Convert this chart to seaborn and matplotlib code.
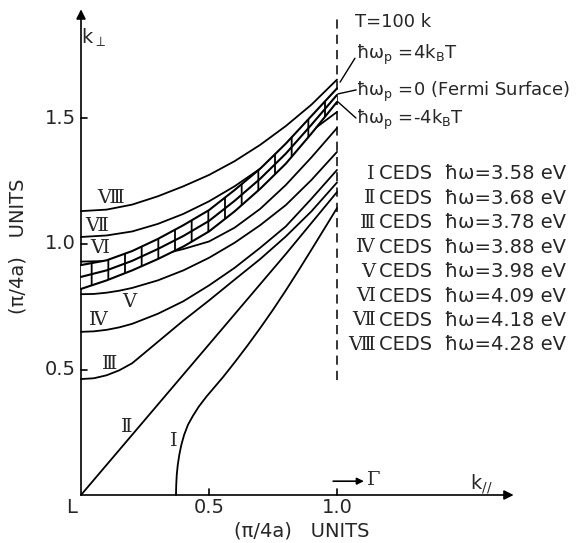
import numpy as np
import pandas as pd
import matplotlib
matplotlib.use("Agg")
import matplotlib.pyplot as plt
import seaborn as sns

# ---------------- data ----------------
xg = [0.0, 0.1, 0.2, 0.3, 0.4, 0.5, 0.6, 0.7, 0.8, 0.9, 1.0]
xf = [0.0, 0.05, 0.1, 0.15, 0.2, 0.3, 0.4, 0.5, 0.6, 0.7, 0.8, 0.9, 1.0]
curve_VIII = [1.131, 1.137, 1.157, 1.19, 1.23, 1.275, 1.33, 1.395, 1.47, 1.555, 1.655]
curve_VII = [1.028, 1.034, 1.05, 1.08, 1.12, 1.17, 1.23, 1.30, 1.37, 1.45, 1.526]
curve_VI = [0.93, 0.932, 0.94, 0.955, 0.98, 1.01, 1.065, 1.14, 1.235, 1.345, 1.462]
curve_V = [0.80, 0.801, 0.806, 0.814, 0.825, 0.855, 0.895, 0.945, 1.005, 1.075, 1.155, 1.255, 1.367]
curve_IV = [0.65, 0.652, 0.658, 0.668, 0.682, 0.722, 0.772, 0.835, 0.905, 0.985, 1.07, 1.18, 1.295]
curve_III = [0.462, 0.465, 0.477, 0.497, 0.525, 0.61, 0.695, 0.775, 0.858, 0.94, 1.03, 1.13, 1.245]
x_II = [0.0, 0.2, 0.4, 0.6, 0.8, 1.0]
curve_II = [0.0, 0.24, 0.48, 0.72, 0.96, 1.207]
x_I = [0.371, 0.372, 0.374, 0.378, 0.384, 0.392, 0.403, 0.418, 0.437, 0.46, 0.49,
       0.52, 0.555, 0.60, 0.65, 0.70, 0.75, 0.80, 0.85, 0.90, 0.95, 1.0]
curve_I = [0.0, 0.04, 0.08, 0.12, 0.16, 0.20, 0.24, 0.28, 0.315, 0.352, 0.392,
           0.428, 0.47, 0.528, 0.595, 0.665, 0.738, 0.815, 0.895, 0.977, 1.06, 1.143]
band_top = [0.916, 0.935, 0.972, 1.02, 1.075, 1.135, 1.215, 1.30, 1.40, 1.51, 1.62]
band_mid = [0.869, 0.895, 0.933, 0.98, 1.032, 1.092, 1.172, 1.26, 1.36, 1.475, 1.594]
band_bot = [0.821, 0.855, 0.895, 0.94, 0.99, 1.05, 1.13, 1.22, 1.32, 1.44, 1.566]

numerals = ["Ⅰ", "Ⅱ", "Ⅲ", "Ⅳ", "Ⅴ", "Ⅵ", "Ⅶ", "Ⅷ"]
energies = ["3.58", "3.68", "3.78", "3.88", "3.98", "4.09", "4.18", "4.28"]
xticks = [0.5, 1.0]
yticks = [0.5, 1.0, 1.5]

# ---------------- figure ----------------
sns.set_theme(style="white")
plt.rcParams["font.family"] = ["DejaVu Sans"]
plt.rcParams["mathtext.fontset"] = "dejavusans"
plt.rcParams["hatch.linewidth"] = 1.3

fig = plt.figure(figsize=(5.87, 5.43), dpi=100)
ax = fig.add_axes([0, 0, 1, 1])
ax.set_xlim(-81 / 256, (587 - 81) / 256)
ax.set_ylim((495 - 543) / 251, 495 / 251)
ax.axis("off")

rows = []
for name, xs, ys in [("VIII", xg, curve_VIII), ("VII", xg, curve_VII), ("VI", xg, curve_VI),
                     ("V", xf, curve_V), ("IV", xf, curve_IV), ("III", xf, curve_III),
                     ("II", x_II, curve_II), ("I", x_I, curve_I),
                     ("bt", xg, band_top), ("bm", xg, band_mid), ("bb", xg, band_bot)]:
    for a, b in zip(xs, ys):
        rows.append({"x": a, "y": b, "curve": name})
df = pd.DataFrame(rows)

ax.fill_between(xg, band_bot, band_top, facecolor="white", edgecolor="black",
                hatch="|", linewidth=0, zorder=4)
sns.lineplot(data=df[~df["curve"].isin(["bt", "bm", "bb"])], x="x", y="y", units="curve",
             estimator=None, sort=False, color="black", lw=1.3, ax=ax, zorder=3, legend=False)
sns.lineplot(data=df[df["curve"].isin(["bt", "bm", "bb"])], x="x", y="y", units="curve",
             estimator=None, sort=False, color="black", lw=1.5, ax=ax, zorder=5, legend=False)

# axes with arrows
ax.annotate("", xy=(0, 1.935), xytext=(0, 0),
            arrowprops=dict(arrowstyle="-|>", color="black", lw=1.2, mutation_scale=14,
                            shrinkA=0, shrinkB=0))
ax.annotate("", xy=(1.69, 0), xytext=(0, 0),
            arrowprops=dict(arrowstyle="-|>", color="black", lw=1.2, mutation_scale=14,
                            shrinkA=0, shrinkB=0))
for t in yticks:
    ax.plot([0, 0.022], [t, t], color="black", lw=1.2)
    ax.text(-0.02, t, f"{t:.1f}", ha="right", va="center", fontsize=14)
for t in xticks:
    ax.plot([t, t], [0, 0.025], color="black", lw=1.2)
    ax.text(t, -0.05, f"{t:.1f}", ha="center", va="center", fontsize=14)

ax.text(-0.035, -0.05, "L", ha="center", va="center", fontsize=14)
ax.text(0.05, 1.82, r"k$_\perp$", ha="center", va="center", fontsize=14)
ax.text(1.565, 0.045, r"k$_{//}$", ha="center", va="center", fontsize=14)
ax.annotate("", xy=(1.105, 0.055), xytext=(0.985, 0.055),
            arrowprops=dict(arrowstyle="-|>", color="black", lw=1.2, mutation_scale=10,
                            shrinkA=0, shrinkB=0))
ax.text(1.115, 0.06, "Γ", ha="left", va="center", fontsize=14, family="DejaVu Serif")
ax.text(0.863, -0.143, "(π/4a)   UNITS", ha="center", va="center", fontsize=14)
ax.text(-0.246, 0.99, "(π/4a)   UNITS", ha="center", va="center", fontsize=14, rotation=90)

# dashed line at Gamma
ax.plot([1.0, 1.0], [0.458, 1.916], color="black", lw=1.1, ls=(0, (6, 4)))

# curve labels
lab_kw = dict(ha="center", va="center", fontsize=14, family=["DejaVu Serif", "DejaVu Sans"])
for txt, lx, ly in [("Ⅷ", 0.117, 1.183), ("Ⅶ", 0.062, 1.072), ("Ⅵ", 0.074, 0.984),
                    ("Ⅴ", 0.19, 0.769), ("Ⅳ", 0.066, 0.697), ("Ⅲ", 0.113, 0.522),
                    ("Ⅱ", 0.18, 0.27), ("Ⅰ", 0.362, 0.215)]:
    ax.text(lx, ly, txt, **lab_kw)

# annotations at the right
ax.text(1.07, 1.884, "T=100 k", ha="left", va="center", fontsize=13)
ax.text(1.075, 1.753, r"ħω$_\mathrm{p}$ =4k$_\mathrm{B}$T", ha="left", va="center", fontsize=13)
ax.text(1.075, 1.606, r"ħω$_\mathrm{p}$ =0 (Fermi Surface)", ha="left", va="center", fontsize=13)
ax.text(1.075, 1.494, r"ħω$_\mathrm{p}$ =-4k$_\mathrm{B}$T", ha="left", va="center", fontsize=13)
ax.plot([1.012, 1.07], [1.645, 1.74], color="black", lw=1.0)
ax.plot([1.004, 1.075], [1.598, 1.614], color="black", lw=1.0)
ax.plot([1.004, 1.074], [1.566, 1.502], color="black", lw=1.0)

for i, (n, e) in enumerate(zip(numerals, energies)):
    py = 174 + 24.4 * i
    yy = (495 - py) / 251
    ax.text((375 - 81) / 256, yy, n, ha="right", va="center", fontsize=14,
            family=["DejaVu Serif", "DejaVu Sans"])
    ax.text((379 - 81) / 256, yy, "CEDS  ħω=" + e + " eV", ha="left", va="center", fontsize=14)

fig.savefig("out.png", dpi=100)
